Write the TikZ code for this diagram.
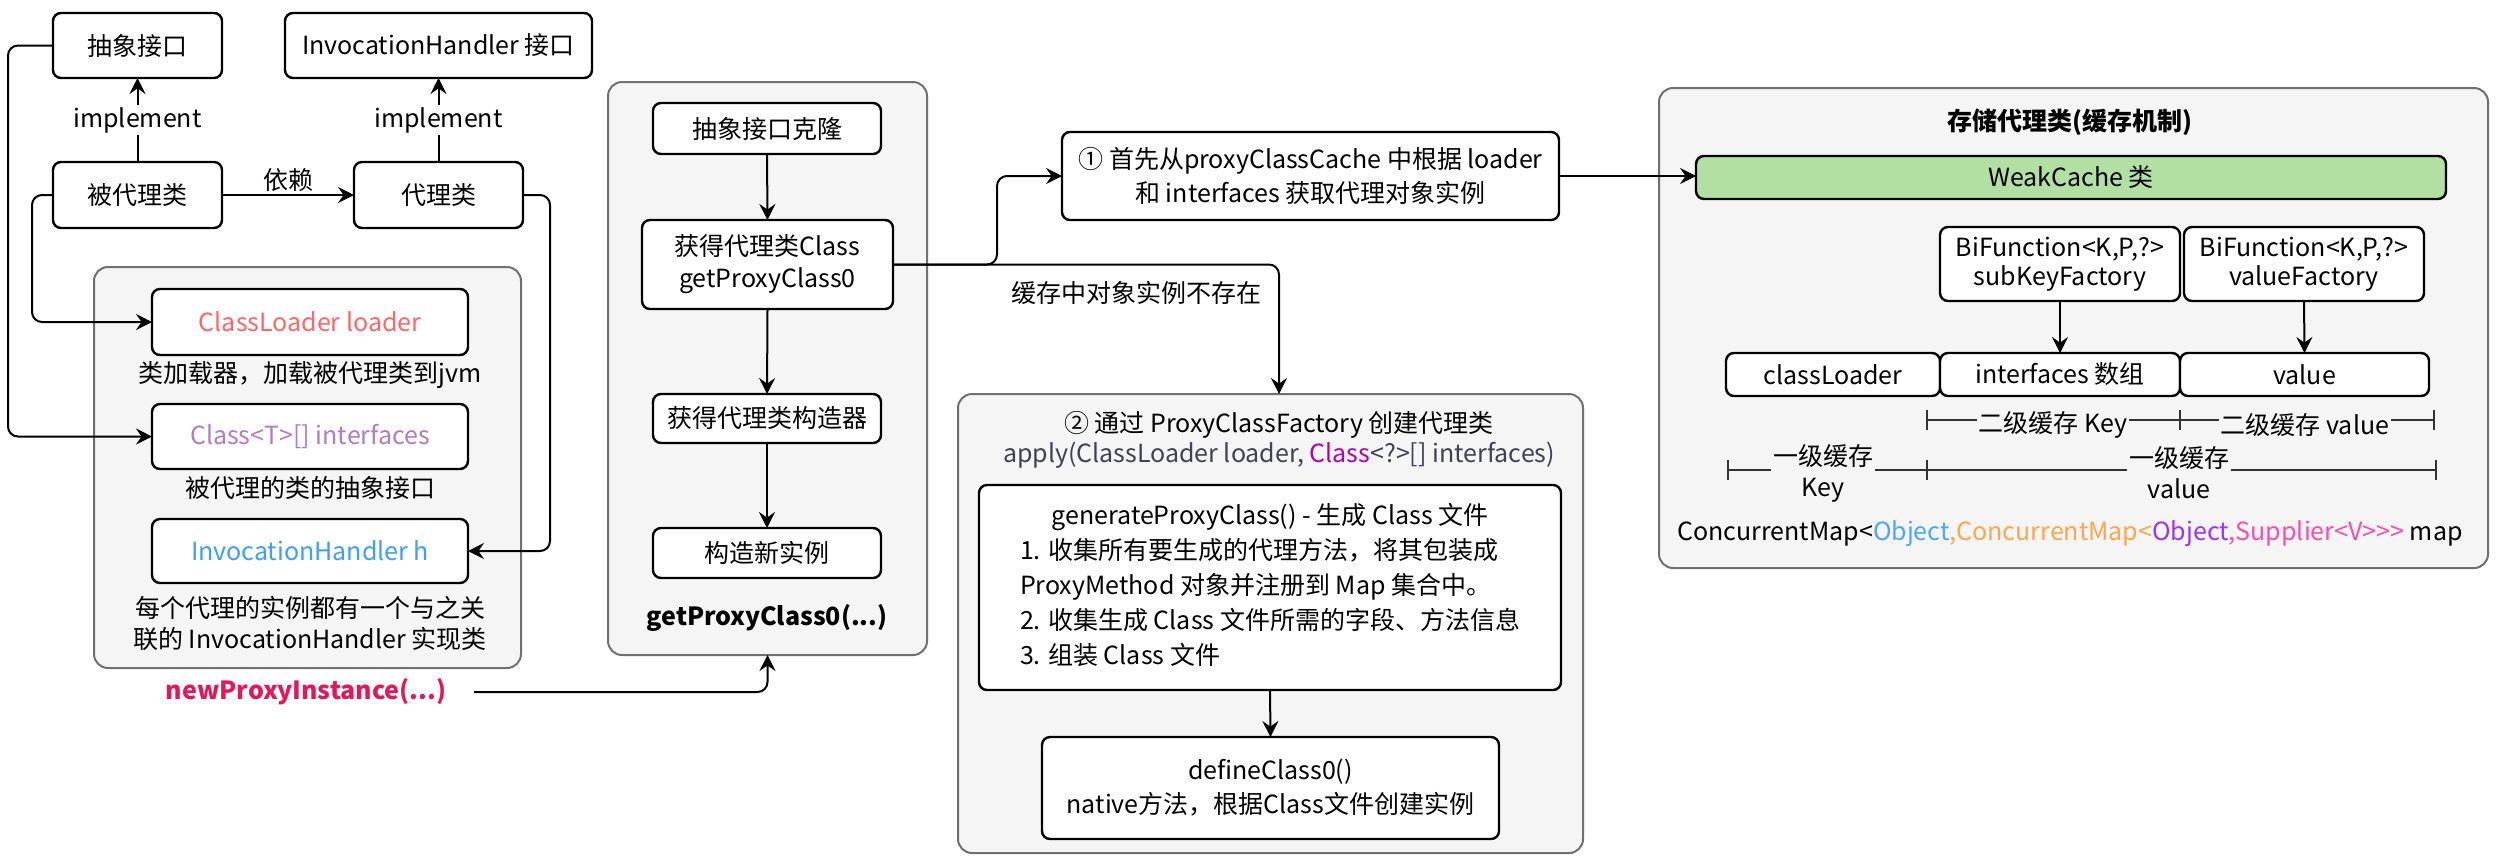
\documentclass[tikz,border=0pt]{standalone}
\usepackage{fontspec}
\setmainfont{Noto Sans CJK SC}
\usetikzlibrary{arrows.meta}
\definecolor{contfill}{HTML}{F5F5F5}
\definecolor{contline}{HTML}{707070}
\definecolor{clred}{HTML}{FF6666}
\definecolor{clpurple}{HTML}{B07CC8}
\definecolor{clblue}{HTML}{3D9EFF}
\definecolor{npicol}{HTML}{E3175A}
\definecolor{apcol}{HTML}{404058}
\definecolor{clmag}{HTML}{B400B4}
\definecolor{wcgreen}{HTML}{B2E0A2}
\definecolor{mapblue}{HTML}{4DA6FF}
\definecolor{maporange}{HTML}{FFA64D}
\definecolor{mappurple}{HTML}{9933FF}
\definecolor{mappink}{HTML}{FF4DA6}
\definecolor{dimcol}{HTML}{333333}
\newcommand\myfs{\fontsize{12.5}{16}\selectfont}
\begin{document}
\begin{tikzpicture}[x=0.5pt,y=-0.5pt,
  font=\myfs,
  box/.style={draw=black, line width=1.2pt, rounded corners=4pt, fill=white, inner sep=0pt, outer sep=0pt, align=center},
  cont/.style={draw=contline, line width=1pt, rounded corners=7pt, fill=contfill, inner sep=0pt, outer sep=0pt},
  conn/.style={line width=1pt, rounded corners=5pt, -{Stealth[length=8pt,width=8pt,inset=2.8pt]}},
  txt/.style={inner sep=1pt, align=center},
  dim/.style={line width=1.2pt, draw=dimcol},
  bw/.style={minimum width=#1*0.5pt},
  bh/.style={minimum height=#1*0.5pt}]
\fill[white] (0,0) rectangle (2498,864);
\useasboundingbox (0,0) rectangle (2498,864);

% containers
\node[cont, bw=427, bh=401] (c1) at (307.5,467.5) {};
\node[cont, bw=319, bh=573] (c2) at (767.5,368.5) {};
\node[cont, bw=625, bh=459] (c3) at (1270.5,623.5) {};
\node[cont, bw=829, bh=480] (c4) at (2073.5,328) {};

% left part
\node[box,bw=169,bh=65] (abs) at (137.5,45.5) {抽象接口};
\node[box,bw=307,bh=65] (ihi) at (438.5,45.5) {InvocationHandler 接口};
\node[box,bw=169,bh=66] (real) at (137.5,195) {被代理类};
\node[box,bw=169,bh=66] (proxy) at (438.5,195) {代理类};
\node[box,bw=316,bh=66] (cl) at (310,322) {\textcolor{clred}{ClassLoader loader}};
\node[txt] (d1) at (310,375) {类加载器，加载被代理类到jvm};
\node[box,bw=316,bh=65] (itf) at (310,436.5) {\textcolor{clpurple}{Class<T>[] interfaces}};
\node[txt] (d2) at (310,488) {被代理的类的抽象接口};
\node[box,bw=316,bh=64] (ih) at (310,551) {\textcolor{clblue}{InvocationHandler h}};
\node[txt, font=\fontsize{12.5}{15.5}\selectfont] (d3) at (310,623) {每个代理的实例都有一个与之关\\联的 InvocationHandler 实现类};
\node[txt, font=\myfs\bfseries] (npi) at (306,692) {\textcolor{npicol}{newProxyInstance(...)}};
\coordinate (npiend) at (474,692);

% middle part
\node[box,bw=228,bh=51] (clone) at (767,128.5) {抽象接口克隆};
\node[box,bw=251,bh=89] (getc) at (767.5,264.5) {获得代理类Class\\getProxyClass0};
\node[box,bw=228,bh=49] (ctor) at (767,418.5) {获得代理类构造器};
\node[box,bw=228,bh=50] (newi) at (767,553) {构造新实例};
\node[txt, font=\myfs\bfseries] (gpc) at (767,618) {getProxyClass0(...)};

% step 1
\node[box,bw=497,bh=88, font=\fontsize{12.5}{17}\selectfont] (s1) at (1310.5,176) {① 首先从proxyClassCache 中根据 loader\\和 interfaces 获取代理对象实例};
\node[txt] (miss) at (1136,293) {缓存中对象实例不存在};

% step 2
\node[txt] (t2) at (1279,425) {② 通过 ProxyClassFactory 创建代理类};
\node[txt] (ap) at (1279,455) {\textcolor{apcol}{apply(ClassLoader loader, \textcolor{clmag}{Class}<?>[] interfaces)}};
\node[box,bw=582,bh=205, font=\fontsize{12.5}{17.5}\selectfont] (gen) at (1270,587.5) {%
\begin{tabular}{@{}l@{}}
\multicolumn{1}{@{}c@{}}{generateProxyClass() - 生成 Class 文件}\\
1. 收集所有要生成的代理方法，将其包装成\\
ProxyMethod 对象并注册到 Map 集合中。\\
2. 收集生成 Class 文件所需的字段、方法信息\\
3. 组装 Class 文件
\end{tabular}};
\node[box,bw=457,bh=102, font=\fontsize{12.5}{17}\selectfont] (def) at (1270.5,788) {defineClass0()\\native方法，根据Class文件创建实例};

% right part
\node[txt, font=\myfs\bfseries] (t4) at (2070,122) {存储代理类(缓存机制)};
\node[box, fill=wcgreen, bw=750, bh=43] (weak) at (2071,177.5) {WeakCache 类};
\node[box,bw=240,bh=74, font=\fontsize{12.5}{14.5}\selectfont] (sk) at (2060,264) {BiFunction<K,P,?>\\subKeyFactory};
\node[box,bw=240,bh=74, font=\fontsize{12.5}{14.5}\selectfont] (vf) at (2304,264) {BiFunction<K,P,?>\\valueFactory};
\node[box,bw=214,bh=43] (rcl) at (1833,374.5) {classLoader};
\node[box,bw=240,bh=43] (rif) at (2060,374.5) {interfaces 数组};
\node[box,bw=249,bh=43] (rval) at (2304.5,374.5) {value};

% dimension lines
\draw[dim] (1927,410) -- (1927,430);
\draw[dim] (2180,410) -- (2180,430);
\draw[dim] (2434,410) -- (2434,430);
\draw[dim] (1927,420) -- (2434,420);
\node[txt, fill=contfill] (k2) at (2053,425) {二级缓存 Key};
\node[txt, fill=contfill] (v2) at (2305,425) {二级缓存 value};
\draw[dim] (1728,460) -- (1728,480);
\draw[dim] (1927,460) -- (1927,480);
\draw[dim] (2436,460) -- (2436,480);
\draw[dim] (1728,470) -- (2436,470);
\node[txt, fill=contfill, font=\fontsize{12.5}{15.5}\selectfont] (k1) at (1823,473) {一级缓存\\Key};
\node[txt, fill=contfill, font=\fontsize{12.5}{15.5}\selectfont] (v1) at (2179,473) {一级缓存\\value};
\node[txt] (map) at (2070,534) {ConcurrentMap<\textcolor{mapblue}{Object}\textcolor{maporange}{,ConcurrentMap<}\textcolor{mappurple}{Object}\textcolor{mappink}{,Supplier<V>{}>{}>} map};

% connectors
\draw[conn] (abs.west) -- ++(-45,0) |- (itf.west);
\draw[conn] (real.west) -- ++(-21,0) |- (cl.west);
\draw[conn] (real.north) -- node[txt, fill=white] {implement} (abs.south);
\draw[conn] (proxy.north) -- node[txt, fill=white] {implement} (ihi.south);
\draw[conn] (real.east) -- node[txt, above=0pt] {依赖} (proxy.west);
\draw[conn] (proxy.east) -- ++(27,0) |- (ih.east);
\draw[conn] (npiend) -| (c2.south);
\draw[conn] (clone.south) -- (getc.north);
\draw[conn] (getc.south) -- (ctor.north);
\draw[conn] (ctor.south) -- (newi.north);
\draw[conn] (getc.east) -- ++(104,0) |- (s1.west);
\draw[conn] (getc.east) -| ([xshift=4.25pt]c3.north);
\draw[conn] (s1.east) -- (s1.east -| weak.west);
\draw[conn] (gen.south) -- (def.north);
\draw[conn] (sk.south) -- (rif.north);
\draw[conn] (vf.south) -- (rval.north);
\end{tikzpicture}
\end{document}
